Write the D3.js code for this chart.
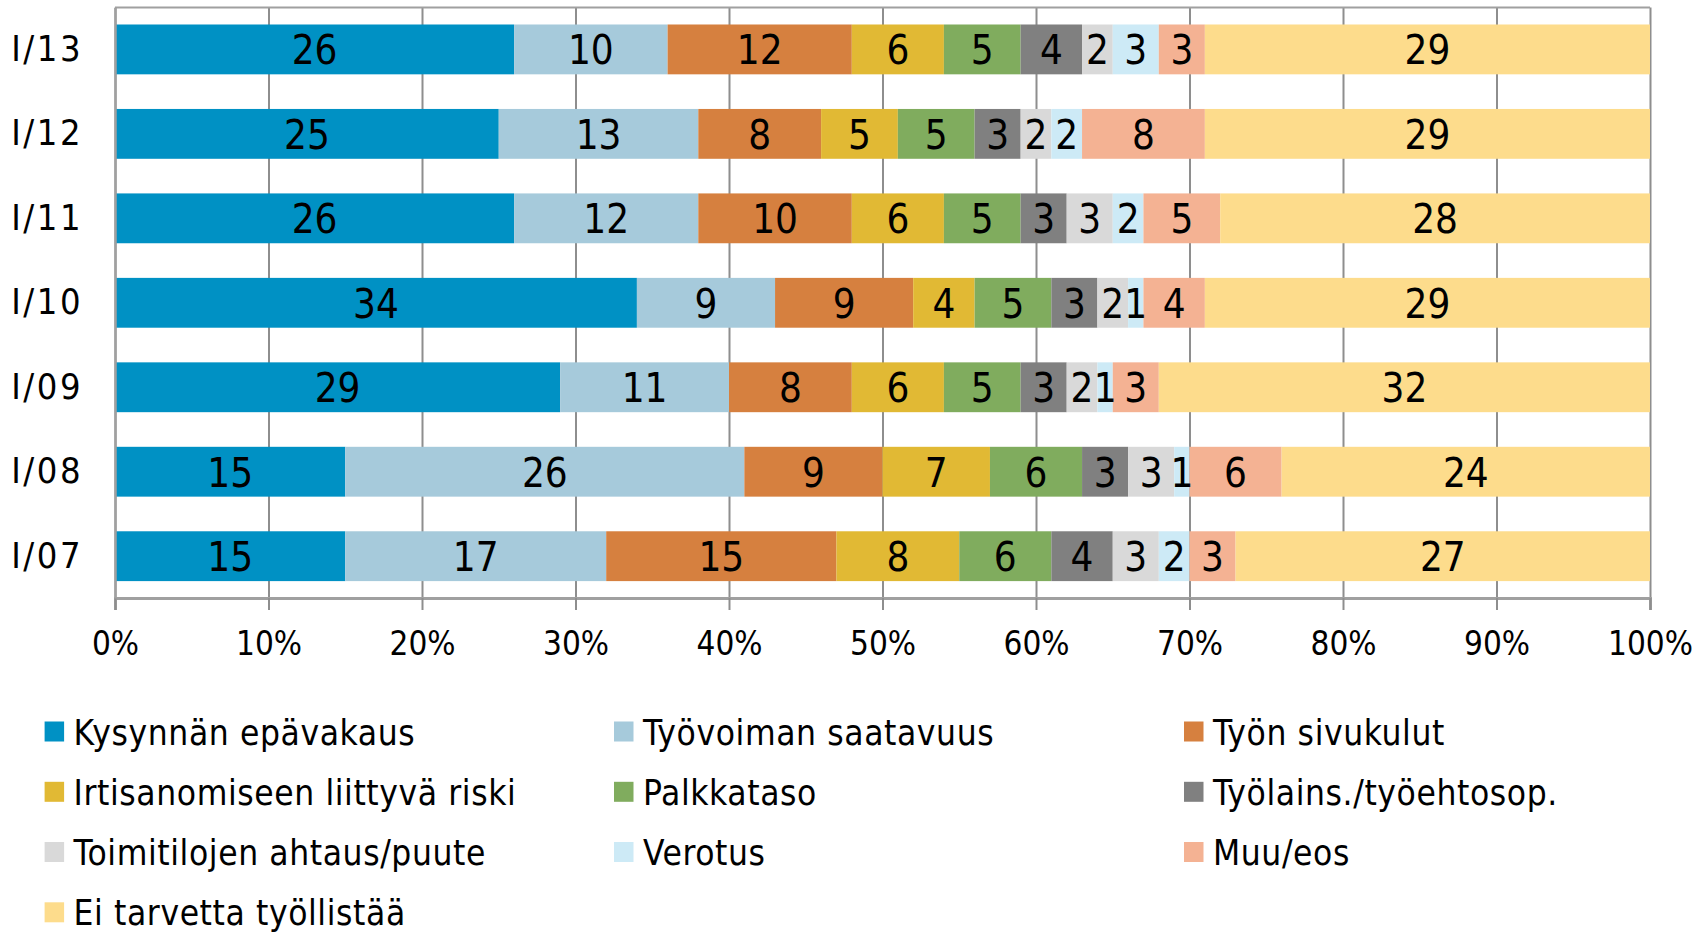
<!DOCTYPE html>
<html>
<head>
<meta charset="utf-8">
<script src="https://cdn.jsdelivr.net/npm/d3@7"></script>
<style>
  html, body { margin: 0; padding: 0; background: #fff; }
  svg { display: block; }
  text { font-family: "DejaVu Sans Condensed", "DejaVu Sans", sans-serif; fill: #000; }
</style>
</head>
<body>
<svg id="chart" width="1705" height="933"></svg>
<script>
// ---- Data ----
const categories = ["I/13", "I/12", "I/11", "I/10", "I/09", "I/08", "I/07"];
const seriesNames = [
  "Kysynnän epävakaus", "Työvoiman saatavuus", "Työn sivukulut",
  "Irtisanomiseen liittyvä riski", "Palkkataso", "Työlains./työehtosop.",
  "Toimitilojen ahtaus/puute", "Verotus", "Muu/eos", "Ei tarvetta työllistää"
];
const seriesColors = [
  "#0091C4", "#A6CADB", "#D6803F", "#E1B934", "#80AC5E", "#808080",
  "#D9D9D9", "#CDEAF6", "#F4B293", "#FDDC8C"
];
const kysynnanEpavakaus   = [26, 25, 26, 34, 29, 15, 15];
const tyovoimanSaatavuus  = [10, 13, 12,  9, 11, 26, 17];
const tyonSivukulut       = [12,  8, 10,  9,  8,  9, 15];
const irtisanomisRiski    = [ 6,  5,  6,  4,  6,  7,  8];
const palkkataso          = [ 5,  5,  5,  5,  5,  6,  6];
const tyolainsTyoehtosop  = [ 4,  3,  3,  3,  3,  3,  4];
const toimitilojenAhtaus  = [ 2,  2,  3,  2,  2,  3,  3];
const verotus             = [ 3,  2,  2,  1,  1,  1,  2];
const muuEos              = [ 3,  8,  5,  4,  3,  6,  3];
const eiTarvetta          = [29, 29, 28, 29, 32, 24, 27];
const tickValues = [0, 10, 20, 30, 40, 50, 60, 70, 80, 90, 100];

const seriesValues = [
  kysynnanEpavakaus, tyovoimanSaatavuus, tyonSivukulut, irtisanomisRiski,
  palkkataso, tyolainsTyoehtosop, toimitilojenAhtaus, verotus, muuEos, eiTarvetta
];

// ---- Layout ----
const svg = d3.select("#chart");
const plot = { left: 115, right: 1650, top: 7.6, bottom: 598 };

const x = d3.scaleLinear().domain([0, 100]).range([plot.left, plot.right]);
const y = d3.scaleBand().domain(categories).range([plot.top, plot.bottom])
  .paddingInner(0.41).paddingOuter(0.2);

// table for stacking
const table = categories.map((c, i) => {
  const row = { cat: c };
  seriesNames.forEach((s, j) => { row[s] = seriesValues[j][i]; });
  return row;
});
const stack = d3.stack().keys(seriesNames)(table);

// gridlines
const grid = svg.append("g")
  .attr("transform", `translate(0,${plot.bottom})`)
  .call(d3.axisBottom(x).tickValues(tickValues).tickSize(-(plot.bottom - plot.top)).tickFormat(""));
grid.select(".domain").remove();
grid.selectAll(".tick line").attr("stroke", "#8E8E8E").attr("stroke-width", 2);

// top border
svg.append("line")
  .attr("x1", x(0)).attr("x2", x(100))
  .attr("y1", plot.top).attr("y2", plot.top)
  .attr("stroke", "#A0A0A0").attr("stroke-width", 2);

// bars
const layers = svg.append("g").selectAll("g").data(stack).join("g")
  .attr("fill", (d, i) => seriesColors[i]);
layers.selectAll("rect").data(d => d).join("rect")
  .attr("x", d => x(d[0]))
  .attr("width", d => x(d[1]) - x(d[0]))
  .attr("y", d => y(d.data.cat))
  .attr("height", y.bandwidth());

// bar labels
const labelLayers = svg.append("g").selectAll("g").data(stack).join("g");
labelLayers.selectAll("text").data(d => d).join("text")
  .attr("x", d => (x(d[0]) + x(d[1])) / 2)
  .attr("y", d => y(d.data.cat) + y.bandwidth() / 2 + 1)
  .attr("text-anchor", "middle")
  .attr("dominant-baseline", "central")
  .style("font-size", "40px")
  .text(d => d[1] - d[0]);

// bottom axis with ticks below
const xAxis = svg.append("g")
  .attr("transform", `translate(0,${plot.bottom})`)
  .call(d3.axisBottom(x).tickValues(tickValues).tickSize(12).tickPadding(22).tickFormat(d => d + "%"));
xAxis.select(".domain").attr("stroke", "#A0A0A0").attr("stroke-width", 3);
xAxis.selectAll(".tick line").attr("stroke", "#8E8E8E").attr("stroke-width", 2);
xAxis.selectAll(".tick text").style("font-size", "33px").attr("fill", "#000");

// left axis
const yAxis = svg.append("g")
  .attr("transform", `translate(${plot.left},0)`)
  .call(d3.axisLeft(y).tickSize(0).tickPadding(32));
yAxis.select(".domain").attr("stroke", "#A0A0A0").attr("stroke-width", 2.5);
yAxis.selectAll(".tick text").style("font-size", "36px").style("letter-spacing", "2.5px").attr("fill", "#000");

// legend
const legendCols = [44.6, 614, 1184];
const legendRowY = [731.5, 791.8, 852, 912.3];
const legend = svg.append("g").selectAll("g").data(seriesNames).join("g")
  .attr("transform", (d, i) => `translate(${legendCols[i % 3]},${legendRowY[Math.floor(i / 3)]})`);
legend.append("rect")
  .attr("x", 0).attr("y", -10).attr("width", 19.5).attr("height", 20)
  .attr("fill", (d, i) => seriesColors[i]);
legend.append("text")
  .attr("x", 29).attr("y", 1)
  .attr("dominant-baseline", "central")
  .style("font-size", "35px")
  .style("letter-spacing", "0.6px")
  .text(d => d);
</script>
</body>
</html>
